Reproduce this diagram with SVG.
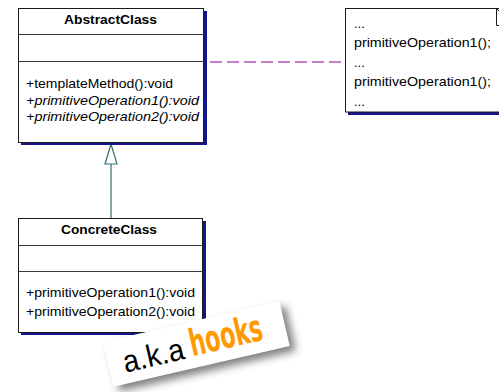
<svg xmlns="http://www.w3.org/2000/svg" width="499" height="392" viewBox="0 0 499 392">
  <style>
    .box { fill: #ffffff; stroke: #1a1a1a; stroke-width: 1; }
    .shadow { fill: #14148c; }
    .sep { stroke: #3a3a3a; stroke-width: 1; }
    .title { font-family: "Liberation Sans", Arial, sans-serif; font-size: 13px; font-weight: bold; fill: #000; }
    .txt { font-family: "Liberation Sans", Arial, sans-serif; font-size: 13px; fill: #000; }
    .it { font-style: italic; }
    .gen { stroke: #2f7070; stroke-width: 1.2; fill: none; }
    .dep { stroke: #c47ec8; stroke-width: 2; stroke-dasharray: 12 5; fill: none; }
  </style>
  <defs>
    <filter id="softShadow" x="-20%" y="-40%" width="150%" height="200%">
      <feGaussianBlur stdDeviation="4"/>
    </filter>
  </defs>

  <rect x="0" y="0" width="499" height="392" fill="#ffffff"/>

  <!-- connectors -->
  <g id="connectors">
    <line class="dep" x1="210" y1="62" x2="345" y2="62"/>
    <line class="gen" x1="111" y1="164" x2="111" y2="218"/>
    <polygon class="gen" points="111,144 105,164 117,164" fill="#ffffff"/>
  </g>

  <!-- AbstractClass -->
  <g id="abstract-class">
    <rect class="shadow" x="21" y="11" width="186" height="134"/>
    <rect class="box" x="18.5" y="8.5" width="185" height="134"/>
    <line class="sep" x1="18.5" y1="34.5" x2="203.5" y2="34.5"/>
    <line class="sep" x1="18.5" y1="61.5" x2="203.5" y2="61.5"/>
    <text class="title" x="64" y="23.5" textLength="93" lengthAdjust="spacingAndGlyphs">AbstractClass</text>
    <text class="txt" x="26" y="88" textLength="147" lengthAdjust="spacingAndGlyphs">+templateMethod():void</text>
    <text class="txt it" x="26" y="104.5" textLength="173" lengthAdjust="spacingAndGlyphs">+primitiveOperation1():void</text>
    <text class="txt it" x="26" y="121" textLength="173" lengthAdjust="spacingAndGlyphs">+primitiveOperation2():void</text>
  </g>

  <!-- note attached to templateMethod -->
  <g id="template-note">
    <rect class="shadow" x="348" y="111" width="151" height="4"/>
    <rect class="box" x="345.5" y="8.5" width="170" height="103.5"/>
    <polyline fill="none" stroke="#1a1a1a" stroke-width="1" points="496.5,8.5 496.5,25.5 515,25.5"/>
    <line x1="496.5" y1="8.5" x2="513" y2="25.5" stroke="#1a1a1a" stroke-width="1"/>
    <text class="txt" x="354" y="27.5">...</text>
    <text class="txt" x="354" y="47" textLength="137" lengthAdjust="spacingAndGlyphs">primitiveOperation1();</text>
    <text class="txt" x="354" y="66.5">...</text>
    <text class="txt" x="354" y="86" textLength="137" lengthAdjust="spacingAndGlyphs">primitiveOperation1();</text>
    <text class="txt" x="354" y="105.5">...</text>
  </g>

  <!-- ConcreteClass -->
  <g id="concrete-class">
    <rect class="shadow" x="21" y="221" width="185" height="114"/>
    <rect class="box" x="18.5" y="218.5" width="184" height="114"/>
    <line class="sep" x1="18.5" y1="245.5" x2="202.5" y2="245.5"/>
    <line class="sep" x1="18.5" y1="271.5" x2="202.5" y2="271.5"/>
    <text class="title" x="61" y="234" textLength="96" lengthAdjust="spacingAndGlyphs">ConcreteClass</text>
    <text class="txt" x="26" y="297" textLength="169" lengthAdjust="spacingAndGlyphs">+primitiveOperation1():void</text>
    <text class="txt" x="26" y="316" textLength="169" lengthAdjust="spacingAndGlyphs">+primitiveOperation2():void</text>
  </g>

  <!-- "a.k.a hooks" sticker -->
  <g id="hooks-sticker" transform="translate(103,342) rotate(-13)">
    <rect x="5" y="6" width="181" height="46" fill="#000" opacity="0.5" filter="url(#softShadow)"/>
    <rect x="0" y="0" width="181" height="46" fill="#ffffff"/>
    <text x="15" y="35" font-family="'Liberation Sans', Arial, sans-serif" font-size="31" fill="#000" textLength="62" lengthAdjust="spacingAndGlyphs">a.k.a</text>
    <text x="84" y="34" font-family="'Liberation Sans Narrow', 'DejaVu Sans Condensed', sans-serif" font-weight="bold" font-size="37" fill="#ff9900" textLength="74" lengthAdjust="spacingAndGlyphs">hooks</text>
  </g>
</svg>
